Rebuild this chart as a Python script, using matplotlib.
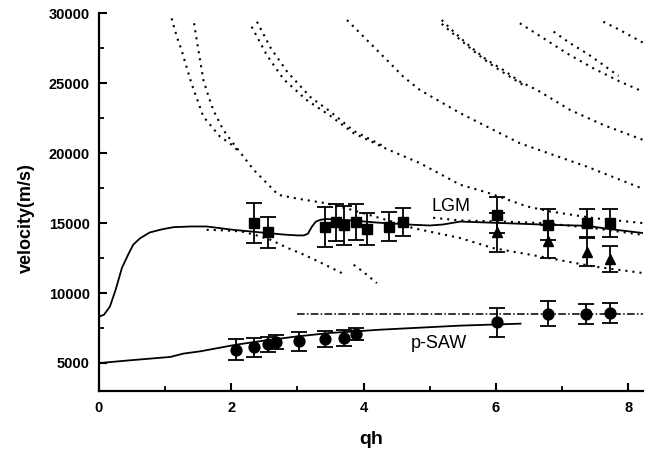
import matplotlib.pyplot as plt
from matplotlib.ticker import MultipleLocator

plt.rcParams['font.family'] = ['Liberation Sans', 'DejaVu Sans']

# measured LGM velocities (squares)
lgm_qh = [2.35, 2.55, 3.41, 3.58, 3.71, 3.88, 4.05, 4.39, 4.60, 6.01, 6.79, 7.37, 7.72]
lgm_v = [15000, 14330, 14710, 15050, 14830, 15070, 14570, 14740, 15090, 15590, 14880, 15000, 15040]
lgm_err = [1450, 1100, 1450, 1350, 1370, 1300, 1170, 1050, 1000, 1300, 1100, 1000, 1000]

# second branch (triangles)
tri_qh = [6.01, 6.79, 7.37, 7.72]
tri_v = [14330, 13690, 12900, 12430]
tri_err = [1400, 1190, 1000, 920]

# measured p-SAW velocities (circles)
saw_qh = [2.08, 2.35, 2.55, 2.68, 3.03, 3.41, 3.71, 3.88, 6.01, 6.79, 7.36, 7.72]
saw_v = [5950, 6140, 6330, 6500, 6540, 6740, 6790, 7070, 7900, 8520, 8520, 8570]
saw_err = [760, 680, 550, 500, 650, 580, 600, 420, 1050, 900, 730, 720]

# solid theory curves
lgm_fit_qh = [0, 0.08, 0.17, 0.26, 0.35, 0.45, 0.52, 0.62, 0.77, 0.95, 1.13, 1.4, 1.63,
              2.03, 2.3, 2.54, 2.8, 3.0, 3.1, 3.16, 3.22, 3.28, 3.36, 3.45, 3.8, 4.2,
              4.75, 5.0, 5.2, 5.46, 6.11, 6.79, 7.37, 7.72, 8.22]
lgm_fit_v = [8300, 8450, 9040, 10300, 11790, 12800, 13450, 13900, 14330, 14550, 14710,
             14760, 14760, 14520, 14400, 14290, 14180, 14120, 14120, 14250, 14750, 15110,
             15250, 15290, 15200, 15040, 14880, 14830, 14900, 15110, 15000, 14880, 14810,
             14570, 14290]
saw_fit_qh = [0, 0.02, 0.47, 1.08, 1.28, 1.53, 2.08, 2.5, 3.0, 3.5, 3.88, 4.25, 5.46, 6.37]
saw_fit_v = [4880, 5000, 5190, 5430, 5670, 5830, 6310, 6600, 6900, 7150, 7260, 7380, 7670, 7810]

# dash-dot level
level_qh = [2.99, 8.22]
level_v = [8520, 8520]

# dotted mode curves
mode_a1_qh = [1.10, 1.18, 1.25, 1.40, 1.58, 1.83, 1.98, 2.1]
mode_a1_v = [29640, 28330, 27380, 25000, 22620, 21190, 20710, 20200]
mode_a2_qh = [1.44, 1.48, 1.53, 1.58, 1.66, 1.73, 1.88, 2.03, 2.34, 2.59, 2.71, 3.0,
              3.42, 3.82, 4.43, 4.75, 5.46, 5.96, 6.72, 7.47, 8.22]
mode_a2_v = [29290, 28100, 26670, 25240, 24040, 23090, 21670, 20710, 18810, 17610, 17020,
             16750, 16430, 15950, 15110, 14640, 13930, 13210, 12570, 11900, 11430]
mode_c1_qh = [2.31, 2.54, 2.79, 3.14, 3.49, 3.85, 4.35, 4.85, 5.46, 5.86, 6.47, 6.82, 7.47, 8.22]
mode_c1_v = [29040, 27000, 25300, 23800, 22700, 21430, 20300, 19290, 17740, 17200, 16190,
             15830, 15360, 15000]
mode_c2_qh = [2.39, 2.6, 2.85, 3.2, 3.49, 3.85, 4.3]
mode_c2_v = [29400, 27500, 25800, 24000, 23000, 21600, 20500]
mode_b_qh = [3.75, 4.0, 4.35, 4.6, 4.85, 5.46, 6.36, 7.37, 8.22]
mode_b_v = [29520, 28330, 26670, 25470, 24520, 22860, 20710, 19040, 17450]
mode_g1_qh = [5.18, 5.36, 5.61, 5.86, 6.11, 6.36, 6.62, 7.12, 7.62, 8.22]
mode_g1_v = [29520, 28690, 27620, 26670, 25950, 25120, 24520, 23090, 22020, 20950]
mode_g2_qh = [5.18, 5.4, 5.65, 5.9, 6.15, 6.4]
mode_g2_v = [29250, 28350, 27350, 26420, 25650, 24900]
mode_d_qh = [6.36, 6.72, 7.07, 7.47, 7.87, 8.22]
mode_d_v = [29290, 28210, 27140, 26070, 25120, 24400]
mode_e_qh = [6.87, 7.12, 7.37, 7.62, 7.85]
mode_e_v = [28690, 27860, 27140, 26310, 25520]
mode_f_qh = [7.62, 7.87, 8.22]
mode_f_v = [29400, 28810, 27900]
mode_l1_qh = [1.63, 1.9, 2.16, 2.36, 2.6, 2.84, 3.12, 3.39, 3.67]
mode_l1_v = [14520, 14480, 14400, 14160, 13800, 13250, 12700, 12090, 11430]
mode_l2_qh = [3.85, 4.0, 4.2]
mode_l2_v = [12020, 11500, 10710]
mode_m_qh = [5.05, 5.46, 6.11, 6.72, 7.47, 8.22]
mode_m_v = [15380, 15190, 15110, 15000, 14640, 14160]

fig = plt.figure(figsize=(6.52, 4.53), dpi=100)
ax = fig.add_axes([0.1514, 0.137, 0.8348, 0.8336])

dotted = dict(color='black', lw=1.5, linestyle=(0, (1, 2.4)))
for qx, vv in [(mode_a1_qh, mode_a1_v), (mode_a2_qh, mode_a2_v),
               (mode_c1_qh, mode_c1_v), (mode_c2_qh, mode_c2_v),
               (mode_b_qh, mode_b_v), (mode_g1_qh, mode_g1_v), (mode_g2_qh, mode_g2_v),
               (mode_d_qh, mode_d_v), (mode_e_qh, mode_e_v), (mode_f_qh, mode_f_v),
               (mode_l1_qh, mode_l1_v), (mode_l2_qh, mode_l2_v), (mode_m_qh, mode_m_v)]:
    ax.plot(qx, vv, **dotted)

ax.plot(lgm_fit_qh, lgm_fit_v, color='black', lw=1.3)
ax.plot(saw_fit_qh, saw_fit_v, color='black', lw=1.3)
ax.plot(level_qh, level_v, color='black', lw=1.1, linestyle=(0, (5, 1.5, 1, 1.5)))

eb = dict(color='black', ecolor='black', elinewidth=1.3, capthick=1.3, linestyle='none')
ax.errorbar(lgm_qh, lgm_v, yerr=lgm_err, fmt='s', ms=6.5, capsize=6, **eb)
ax.errorbar(tri_qh, tri_v, yerr=tri_err, fmt='^', ms=7.5, capsize=6, **eb)
ax.errorbar(saw_qh, saw_v, yerr=saw_err, fmt='o', ms=7.8, capsize=5.5, **eb)

ax.text(5.32, 16190, 'LGM', fontsize=13, ha='center', va='center')
ax.text(5.14, 6070, 'p-SAW', fontsize=13, ha='center', va='baseline')

ax.set_xlim(0, 8.22)
ax.set_ylim(3000, 30000)
ax.xaxis.set_major_locator(MultipleLocator(2))
ax.xaxis.set_minor_locator(MultipleLocator(1))
ax.yaxis.set_major_locator(MultipleLocator(5000))
ax.yaxis.set_minor_locator(MultipleLocator(2500))

for s in ['top', 'right']:
    ax.spines[s].set_visible(False)
for s in ['left', 'bottom']:
    ax.spines[s].set_linewidth(1.6)

ax.tick_params(which='major', direction='in', length=6, width=1.5, labelsize=10.5)
ax.tick_params(which='minor', direction='in', length=3.5, width=1.3)
ax.tick_params(axis='x', pad=7.5)
ax.tick_params(axis='y', pad=6.5)
for lab in ax.get_xticklabels() + ax.get_yticklabels():
    lab.set_fontweight('bold')

ax.set_xlabel('qh', fontsize=14, fontweight='bold')
ax.set_ylabel('velocity(m/s)', fontsize=13, fontweight='bold')
ax.yaxis.set_label_coords(-0.118, 0.459)
ax.xaxis.set_label_coords(0.5, -0.105)

fig.savefig('out.png', dpi=100)
